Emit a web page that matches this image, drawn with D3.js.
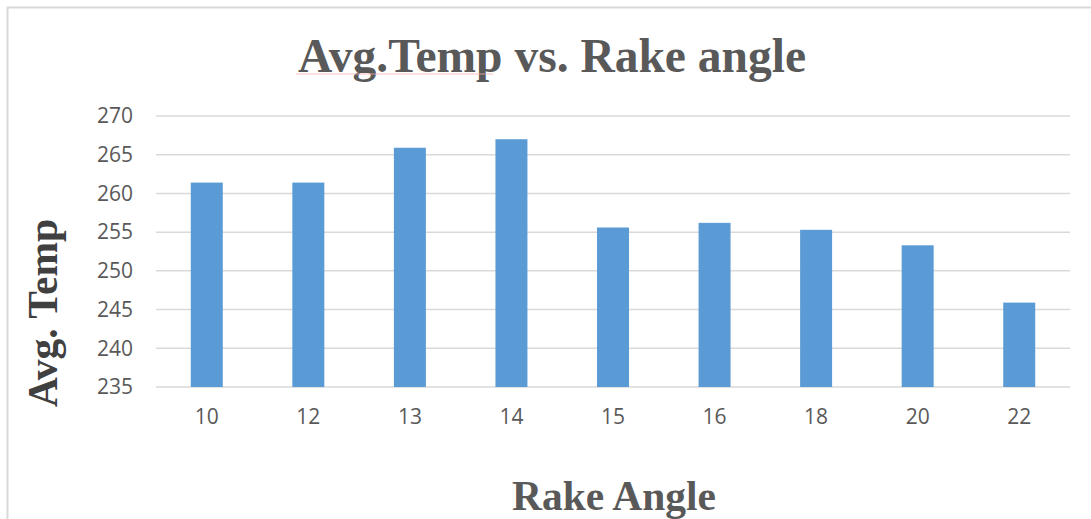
<!DOCTYPE html>
<html>
<head>
<meta charset="utf-8">
<script src="https://cdn.jsdelivr.net/npm/d3@7"></script>
<style>
  body { margin: 0; background: #fff; }
</style>
</head>
<body>
<div id="chart"></div>
<script>
// data
var angles = ["10", "12", "13", "14", "15", "16", "18", "20", "22"];
var temps = [261.4, 261.4, 265.9, 267.0, 255.6, 256.2, 255.3, 253.3, 245.9];
var yTicks = [235, 240, 245, 250, 255, 260, 265, 270];

var W = 1091, H = 519;
var margin = {top: 116, right: 21, bottom: 132, left: 156},
    width = W - margin.left - margin.right,
    height = H - margin.top - margin.bottom;

var svg = d3.select("#chart")
  .append("svg")
    .attr("width", W)
    .attr("height", H);

// chart border (only top and left visible in the crop)
svg.append("rect")
  .attr("x", 7.5).attr("y", 7.5)
  .attr("width", W + 50).attr("height", H + 50)
  .attr("fill", "none")
  .attr("stroke", "#d9d9d9")
  .attr("stroke-width", 2);

var g = svg.append("g")
  .attr("transform", "translate(" + margin.left + "," + margin.top + ")");

var x = d3.scaleBand()
  .domain(angles)
  .range([0, width])
  .paddingInner(0.685)
  .paddingOuter(0.3425);

var y = d3.scaleLinear()
  .domain([235, 270])
  .range([height, 0]);

// gridlines
g.append("g")
  .selectAll("line")
  .data(yTicks)
  .enter().append("line")
    .attr("x1", 0)
    .attr("x2", width)
    .attr("y1", function(d) { return y(d); })
    .attr("y2", function(d) { return y(d); })
    .attr("stroke", "#d9d9d9")
    .attr("stroke-width", 1.5);

// bars
g.selectAll(".bar")
  .data(temps)
  .enter().append("rect")
    .attr("class", "bar")
    .attr("x", function(d, i) { return x(angles[i]); })
    .attr("width", x.bandwidth())
    .attr("y", function(d) { return y(d); })
    .attr("height", function(d) { return height - y(d); })
    .attr("fill", "#5b9bd5");

// Y axis labels
var yAxis = g.append("g")
  .call(d3.axisLeft(y).tickValues(yTicks).tickSize(0).tickPadding(23));
yAxis.select(".domain").remove();
yAxis.selectAll("text")
  .attr("fill", "#595959")
  .style("font-family", "'Open Sans', sans-serif")
  .style("font-size", "21px");

// X axis labels
var xAxis = g.append("g")
  .attr("transform", "translate(0," + height + ")")
  .call(d3.axisBottom(x).tickSize(0).tickPadding(22));
xAxis.select(".domain").remove();
xAxis.selectAll("text")
  .attr("fill", "#595959")
  .style("font-family", "'Open Sans', sans-serif")
  .style("font-size", "21px");

// title
svg.append("text")
  .attr("x", 552)
  .attr("y", 72)
  .attr("text-anchor", "middle")
  .attr("fill", "#595959")
  .style("font-family", "'Liberation Serif', serif")
  .style("font-weight", "bold")
  .style("font-size", "47.5px")
  .text("Avg.Temp vs. Rake angle");

// spell-check underline under "Avg.Temp"
svg.append("line")
  .attr("x1", 296).attr("x2", 493)
  .attr("y1", 74).attr("y2", 74)
  .attr("stroke", "#f7b0b0")
  .attr("stroke-width", 0.8);

// Y axis title
svg.append("text")
  .attr("transform", "translate(57," + 313 + ") rotate(-90)")
  .attr("text-anchor", "middle")
  .attr("fill", "#404040")
  .style("font-family", "'Liberation Serif', serif")
  .style("font-weight", "bold")
  .style("font-size", "41.5px")
  .text("Avg. Temp");

// X axis title
svg.append("text")
  .attr("x", 614)
  .attr("y", 510)
  .attr("text-anchor", "middle")
  .attr("fill", "#595959")
  .style("font-family", "'Liberation Serif', serif")
  .style("font-weight", "bold")
  .style("font-size", "41.5px")
  .text("Rake Angle");
</script>
</body>
</html>
